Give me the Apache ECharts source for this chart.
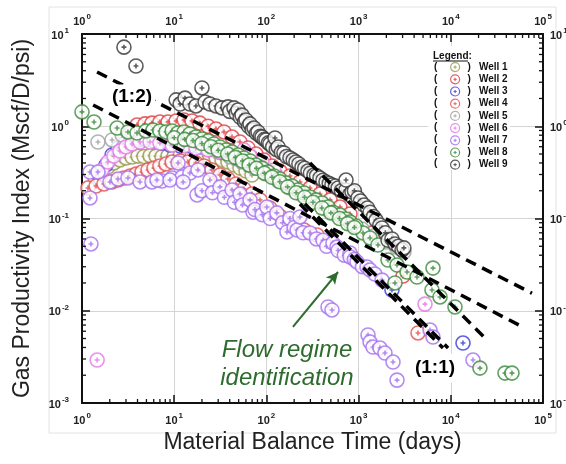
<!DOCTYPE html>
<html>
<head>
<meta charset="utf-8">
<script src="https://cdn.jsdelivr.net/npm/echarts@6/dist/echarts.min.js"></script>
<style>
  html, body { margin: 0; padding: 0; background: #fff; }
  #chart { width: 566px; height: 464px; }
</style>
</head>
<body>
<div id="chart"></div>
<script>
// material balance time (days) vs gas productivity index (Mscf/D/psi)
const wellNames = ['Well 1', 'Well 2', 'Well 3', 'Well 4', 'Well 5', 'Well 6', 'Well 7', 'Well 8', 'Well 9']
const wellColors = ['#96964a', '#e0393e', '#3a3ad8', '#e34d4d', '#a0a0a0', '#e477e4', '#a36ef0', '#3a8a3a', '#333333']

const well1 = [[1.38, 0.275], [1.65, 0.319], [1.91, 0.361], [2.22, 0.40], [2.58, 0.431], [3.0, 0.453], [3.49, 0.464], [4.05, 0.475],
  [4.7, 0.47], [5.47, 0.48], [6.35, 0.475], [7.38, 0.468], [8.57, 0.478], [9.95, 0.472], [11.6, 0.48], [13.4, 0.47], [15.6, 0.476],
  [18.1, 0.47], [21.1, 0.475], [24.4, 0.464], [28.4, 0.453], [33, 0.431], [38.3, 0.409], [44.5, 0.38], [51.7, 0.352], [60.1, 0.327], [69.8, 0.296]]

const well2 = [[3.95, 1.03], [4.82, 1.06], [5.74, 1.08], [7.0, 1.11], [8.57, 1.11], [10.5, 1.14], [12.8, 1.17], [15.6, 1.14], [19.0, 1.08],
  [23.3, 1.0], [28.4, 0.933], [34.7, 0.867], [42.4, 0.764], [51.7, 0.675], [63.1, 0.581], [77.1, 0.5], [94.2, 0.431], [115, 0.371],
  [140, 0.327], [180, 0.289], [231, 0.249], [297, 0.214], [381, 0.184], [490, 0.159], [628, 0.133], [807, 0.112], [1397, 0.0697], [3032, 0.0238]]

const well3 = [[1.57, 0.275], [1.82, 0.38], [2.12, 0.488], [2.46, 0.581], [2.85, 0.642], [3.32, 0.675], [4.05, 0.71], [4.94, 0.71],
  [6.04, 0.692], [7.38, 0.658], [9.0, 0.626], [11.6, 0.61], [14.8, 0.61], [19.0, 0.596], [24.4, 0.567], [31.4, 0.526], [40.3, 0.475],
  [51.7, 0.431], [66.4, 0.38], [2300, 0.0168], [13560, 0.00447]]

const well4 = [[1.16, 0.214], [1.42, 0.225], [1.73, 0.237], [2.12, 0.249], [2.46, 0.261], [2.85, 0.275], [3.32, 0.289], [3.85, 0.303],
  [4.47, 0.319], [5.2, 0.336], [6.04, 0.352], [7.0, 0.371], [8.15, 0.39], [9.5, 0.409], [11.6, 0.42], [14.1, 0.409], [17.2, 0.4],
  [21.1, 0.371], [25.7, 0.336], [31.4, 0.296], [38.3, 0.268], [46.8, 0.237], [57.1, 0.209], [69.8, 0.184], [85.3, 0.159], [109, 0.13],
  [140, 0.106], [190, 0.0893], [256, 0.075], [354, 0.0662], [490, 0.0556], [661, 0.0456], [848, 0.0383], [4410, 0.00574]]

const well5 = [[1.49, 0.675], [2.12, 0.71], [2.72, 0.803], [3.49, 0.867], [4.82, 0.867], [6.67, 0.803], [9.0, 0.746], [12.2, 0.692],
  [16.4, 0.642], [22.1, 0.581], [29.9, 0.526], [40.3, 0.464], [54.4, 0.409], [73.4, 0.352], [99, 0.303], [134, 0.255], [180, 0.214],
  [243, 0.18], [328, 0.151], [443, 0.127], [598, 0.106], [807, 0.0917], [1088, 0.0769], [1469, 0.0646], [1982, 0.0556], [2545, 0.049], [3107, 0.0434]]

const well6 = [[1.46, 0.00292], [1.65, 0.336], [1.91, 0.409], [2.22, 0.475], [2.58, 0.539], [3.0, 0.596], [3.49, 0.642], [4.26, 0.675],
  [5.47, 0.675], [7.0, 0.658], [9.5, 0.626], [12.8, 0.61], [17.2, 0.581], [23.3, 0.553], [31.4, 0.526], [42.4, 0.5], [57.1, 0.553],
  [66.4, 0.475], [89.6, 0.409], [121, 0.336], [5250, 0.0118]]

const well7 = [[1.22, 0.319], [1.49, 0.319], [1.22, 0.167], [1.25, 0.053], [2.01, 0.249], [2.46, 0.268], [3.15, 0.275], [4.26, 0.249],
  [5.74, 0.249], [7.38, 0.255], [9.5, 0.275], [12.2, 0.282], [14.8, 0.311], [18.1, 0.336], [11.0, 0.4], [6.5, 0.261], [9.0, 0.261],
  [12.5, 0.249], [17.7, 0.18], [20, 0.2], [24.4, 0.261], [26, 0.19], [31.4, 0.22], [35, 0.17], [42.4, 0.204], [45, 0.15], [51.7, 0.184],
  [55, 0.14], [66.4, 0.159], [71.6, 0.117], [75, 0.125], [90, 0.11], [101, 0.133], [110, 0.1], [130, 0.115], [150, 0.09], [180, 0.1],
  [167, 0.0714], [200, 0.08], [215, 0.075], [231, 0.104], [250, 0.07], [297, 0.0697], [350, 0.06], [411, 0.058], [450, 0.05],
  [527, 0.0542], [583, 0.049], [600, 0.045], [700, 0.04], [807, 0.0423], [807, 0.0383], [900, 0.036], [961, 0.0338], [1100, 0.03],
  [1233, 0.0298], [1330, 0.0277], [1500, 0.025], [1795, 0.0215], [466, 0.011], [514, 0.0102], [1265, 0.00546], [1330, 0.00458],
  [1432, 0.00404], [1706, 0.00394], [1932, 0.00348], [2362, 0.00278], [2610, 0.00177], [5950, 0.00618], [6410, 0.00519], [17400, 0.00292]]

const well8 = [[1.0, 1.43], [1.35, 1.11], [2.4, 0.957], [3.15, 0.867], [3.95, 0.845], [4.94, 0.889], [5.89, 0.91], [7.0, 0.889],
  [8.15, 0.867], [9.5, 0.889], [11, 0.845], [12.8, 0.867], [14.8, 0.824], [17.2, 0.764], [20, 0.728], [23.3, 0.692], [27, 0.642],
  [31.4, 0.596], [36.5, 0.553], [42.4, 0.526], [49.2, 0.488], [57.1, 0.453], [66.4, 0.42], [77.1, 0.38], [89.6, 0.352], [104, 0.319],
  [121, 0.289], [140, 0.268], [163, 0.243], [190, 0.225], [220, 0.204], [256, 0.189], [297, 0.171], [345, 0.159], [401, 0.147],
  [466, 0.133], [527, 0.117], [628, 0.109], [730, 0.0988], [807, 0.0917], [937, 0.083], [1116, 0.0697], [1330, 0.0615], [1622, 0.0516],
  [2085, 0.0355], [2610, 0.0313], [3350, 0.0263], [4300, 0.0232], [6410, 0.029], [2480, 0.02], [6250, 0.0168], [7640, 0.0141],
  [11100, 0.011], [20700, 0.00239], [38700, 0.00211], [46100, 0.00211],
  [10, 0.75], [13, 0.72], [16, 0.7], [20, 0.65], [25, 0.6], [30, 0.55], [38, 0.5], [46, 0.46], [55, 0.42], [65, 0.38], [78, 0.35],
  [95, 0.31], [115, 0.28], [140, 0.25], [170, 0.22], [210, 0.19], [260, 0.17], [320, 0.15], [400, 0.13], [500, 0.115], [620, 0.1],
  [760, 0.088], [900, 0.08]]

const well9 = [[2.85, 7.2], [3.85, 4.5], [10.5, 1.93], [11.6, 1.74], [13.1, 2.02], [14.8, 1.74], [17.2, 1.66], [20, 2.6], [21.6, 1.83],
  [24.4, 1.74], [28.4, 1.66], [33, 1.58], [38.3, 1.62], [40, 1.45], [44.5, 1.58], [47, 1.38], [49.2, 1.5], [52, 1.25], [54.4, 1.32],
  [58, 1.12], [60.1, 1.17], [64, 1.0], [66.4, 1.06], [70, 0.92], [73.4, 0.957], [78, 0.84], [81.1, 0.867], [86, 0.78], [89.6, 0.764],
  [95, 0.72], [99, 0.71], [105, 0.66], [109, 0.642], [117, 0.6], [124, 0.746], [128, 0.56], [134, 0.596], [145, 0.52], [155, 0.513],
  [165, 0.47], [180, 0.453], [195, 0.43], [209, 0.409], [225, 0.39], [243, 0.361], [260, 0.35], [282, 0.327], [300, 0.31], [328, 0.296],
  [350, 0.29], [381, 0.275], [410, 0.26], [443, 0.249], [480, 0.24], [514, 0.231], [560, 0.225], [598, 0.214], [650, 0.2], [730, 0.204],
  [800, 0.18], [848, 0.194], [900, 0.2], [730, 0.261], [985, 0.167], [1050, 0.155], [1145, 0.14], [1250, 0.13], [1330, 0.117],
  [1450, 0.105], [1545, 0.096], [1700, 0.085], [1795, 0.079], [1950, 0.07], [2085, 0.058], [2300, 0.06], [2480, 0.053], [2700, 0.05],
  [2960, 0.0456], [3100, 0.048]]

const wells = [well1, well2, well3, well4, well5, well6, well7, well8, well9]

// dashed trend lines, end points in data units
const halfSlopeUpper = [[1.456, 3.87], [75900, 0.0155]]
const halfSlopeLower = [[1.32, 1.70], [60300, 0.00667]]
const unitSlopeRight = [[297, 0.40], [23500, 0.00507]]
const unitSlopeMid = [[231, 0.1436], [8230, 0.00395]]
const unitSlopeMid2 = [[262, 0.1436], [9340, 0.00395]]
const trendLines = [halfSlopeUpper, halfSlopeLower, unitSlopeRight, unitSlopeMid, unitSlopeMid2]

const arrowFrom = [194, 0.00667]
const arrowTo = [598, 0.0263]

const xMin = 1
const xMax = 100000
const yMin = 0.001
const yMax = 10
const minorSteps = [2, 3, 4, 5, 6, 7, 8, 9]

const font = 'Liberation Sans, Arial, sans-serif'
const marker = 'path://M0,-10A10,10,0,1,1,0,10A10,10,0,1,1,0,-10ZM-3.5,0L3.5,0M0,-3.5L0,3.5'

const chart = echarts.init(document.getElementById('chart'))

const supFormatter = function (v) {
  return '{b|10}{s|' + Math.round(Math.log10(v)) + '}'
}
const labelRich = {
  b: { fontSize: 11, fontWeight: 'bold', color: '#222', fontFamily: font, lineHeight: 14, verticalAlign: 'bottom' },
  s: { fontSize: 8, fontWeight: 'bold', color: '#222', fontFamily: font, lineHeight: 14, verticalAlign: 'top', padding: [0, 0, 0, 1] }
}

function logAxis (position, showSplit, margin) {
  return {
    type: 'log',
    logBase: 10,
    position: position,
    axisLine: { onZero: false, lineStyle: { color: '#111', width: 2 } },
    axisTick: { inside: true, length: 8, lineStyle: { color: '#111', width: 1.5 } },
    axisLabel: { formatter: supFormatter, rich: labelRich, margin: margin },
    splitLine: { show: showSplit, lineStyle: { color: '#d4d4d4', width: 1 } }
  }
}

const xBottom = Object.assign(logAxis('bottom', true, 9), {
  min: xMin, max: xMax,
  name: 'Material Balance Time (days)',
  nameLocation: 'middle',
  nameGap: 27,
  nameTextStyle: { fontSize: 23, color: '#222', fontFamily: font }
})
const xTop = Object.assign(logAxis('top', false, 7), { min: xMin, max: xMax })
const yLeft = Object.assign(logAxis('left', true, 13), {
  min: yMin, max: yMax,
  name: 'Gas Productivity Index (Mscf/D/psi)',
  nameLocation: 'middle',
  nameGap: 48,
  nameTextStyle: { fontSize: 23, color: '#222', fontFamily: font }
})
const yRight = Object.assign(logAxis('right', false, 7), { min: yMin, max: yMax })

const series = []
wells.forEach(function (data, i) {
  series.push({
    name: wellNames[i],
    type: 'scatter',
    data: data,
    symbol: marker,
    symbolSize: 14,
    clip: false,
    z: 2,
    itemStyle: { color: '#fff', borderColor: wellColors[i], borderWidth: 1.6 },
    emphasis: { disabled: true }
  })
})
trendLines.forEach(function (data) {
  series.push({
    type: 'line',
    data: data,
    symbol: 'none',
    silent: true,
    z: 3,
    lineStyle: { color: '#000', width: 3.5, type: [11, 7] }
  })
})
series.push({
  type: 'scatter',
  data: [],
  silent: true,
  z: 3,
  markLine: {
    silent: true,
    symbol: ['none', 'arrow'],
    symbolSize: [9, 12],
    label: { show: false },
    lineStyle: { color: '#2e6b2e', width: 2, type: 'solid' },
    data: [[{ coord: arrowFrom }, { coord: arrowTo }]]
  }
})

chart.setOption({
  animation: false,
  backgroundColor: '#fff',
  grid: { left: 82, right: 23, top: 34, bottom: 61, containLabel: false, outerBoundsMode: 'none' },
  xAxis: [xBottom, xTop],
  yAxis: [yLeft, yRight],
  legend: {
    data: wellNames,
    orient: 'vertical',
    left: 450,
    top: 62,
    itemWidth: 9,
    itemHeight: 9,
    itemGap: 2,
    padding: 0,
    selectedMode: false,
    itemStyle: { borderWidth: 1.2 },
    formatter: function (name) { return '{p|)}{w|' + name + '}' },
    textStyle: {
      lineHeight: 10,
      rich: {
        p: { fontSize: 10, fontWeight: 'bold', color: '#111', fontFamily: font, padding: [0, 0, 0, 3] },
        w: { fontSize: 10, fontWeight: 'bold', color: '#111', fontFamily: font, padding: [0, 0, 0, 8] }
      }
    }
  },
  series: series
})

// annotations and minor log ticks
const graphic = [
  { type: 'rect', silent: true, z: 0, shape: { x: 49, y: 7, width: 507, height: 426 }, style: { fill: 'none', stroke: '#e2e2e2', lineWidth: 1 } },
  { type: 'rect', silent: true, z: 1, shape: { x: 428, y: 46, width: 82, height: 124 }, style: { fill: '#fff' } },
  { type: 'text', silent: true, z: 5, x: 433, y: 51, style: { text: 'Legend:', font: 'bold 10px ' + font, fill: '#111' } },
  { type: 'line', silent: true, z: 5, shape: { x1: 433, y1: 61, x2: 468, y2: 61 }, style: { stroke: '#111', lineWidth: 1 } },
  { type: 'text', silent: true, z: 5, x: 434, y: 61, style: { text: '(\n(\n(\n(\n(\n(\n(\n(\n(', font: 'bold 10px ' + font, fill: '#111', lineHeight: 12 } },
  { type: 'text', silent: true, z: 10, x: 132, y: 97, style: { text: '(1:2)', font: 'bold 19px ' + font, fill: '#000', align: 'center', verticalAlign: 'middle', backgroundColor: '#fff', padding: [3, 3] } },
  { type: 'text', silent: true, z: 10, x: 435, y: 368, style: { text: '(1:1)', font: 'bold 19px ' + font, fill: '#000', align: 'center', verticalAlign: 'middle', backgroundColor: '#fff', padding: [5, 4] } },
  { type: 'text', silent: true, z: 10, x: 287, y: 350, style: { text: 'Flow regime', font: 'italic 24px ' + font, fill: '#2e6b2e', align: 'center', verticalAlign: 'middle' } },
  { type: 'text', silent: true, z: 10, x: 287, y: 378, style: { text: 'identification', font: 'italic 24px ' + font, fill: '#2e6b2e', align: 'center', verticalAlign: 'middle' } }
]

const gx0 = chart.convertToPixel({ xAxisIndex: 0 }, xMin)
const gx1 = chart.convertToPixel({ xAxisIndex: 0 }, xMax)
const gy0 = chart.convertToPixel({ yAxisIndex: 0 }, yMin)
const gy1 = chart.convertToPixel({ yAxisIndex: 0 }, yMax)
const tickStyle = { stroke: '#111', lineWidth: 1.3 }

for (let d = xMin; d < xMax; d *= 10) {
  minorSteps.forEach(function (m) {
    const px = chart.convertToPixel({ xAxisIndex: 0 }, m * d)
    graphic.push({ type: 'line', silent: true, z: 5, shape: { x1: px, y1: gy0, x2: px, y2: gy0 - 4 }, style: tickStyle })
    graphic.push({ type: 'line', silent: true, z: 5, shape: { x1: px, y1: gy1, x2: px, y2: gy1 + 4 }, style: tickStyle })
  })
}
for (let d = yMin; d < yMax * 0.99; d *= 10) {
  minorSteps.forEach(function (m) {
    const py = chart.convertToPixel({ yAxisIndex: 0 }, m * d)
    graphic.push({ type: 'line', silent: true, z: 5, shape: { x1: gx0, y1: py, x2: gx0 + 4, y2: py }, style: tickStyle })
    graphic.push({ type: 'line', silent: true, z: 5, shape: { x1: gx1, y1: py, x2: gx1 - 4, y2: py }, style: tickStyle })
  })
}

chart.setOption({ graphic: graphic })
</script>
</body>
</html>
